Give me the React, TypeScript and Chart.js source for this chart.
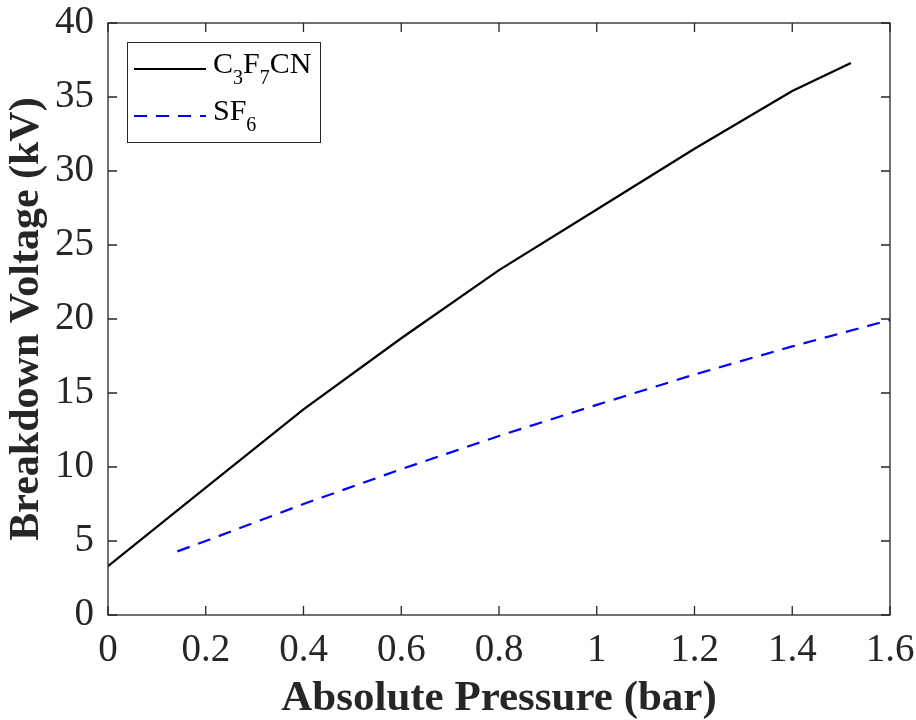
import React, { useEffect, useRef } from 'react';
import { Chart, registerables } from 'chart.js';

Chart.register(...registerables);

// ---- Data ----
const pressureC3F7CN = [0, 0.2, 0.4, 0.6, 0.8, 1.0, 1.2, 1.4, 1.52];
const voltageC3F7CN = [3.3, 8.6, 13.9, 18.7, 23.3, 27.4, 31.5, 35.4, 37.3];

const pressureSF6 = [0.142, 0.2, 0.4, 0.6, 0.8, 1.0, 1.2, 1.4, 1.6];
const voltageSF6 = [4.3, 5.0, 7.5, 9.85, 12.1, 14.2, 16.25, 18.15, 19.93];

const seriesLabels = ['C3F7CN', 'SF6'];

const xTickValues = [0, 0.2, 0.4, 0.6, 0.8, 1.0, 1.2, 1.4, 1.6];
const xTickLabels = ['0', '0.2', '0.4', '0.6', '0.8', '1', '1.2', '1.4', '1.6'];
const yTickValues = [0, 5, 10, 15, 20, 25, 30, 35, 40];
const yTickLabels = ['0', '5', '10', '15', '20', '25', '30', '35', '40'];

const xTitle = 'Absolute Pressure (bar)';
const yTitle = 'Breakdown Voltage (kV)';

const FONT = "'Liberation Serif', 'Times New Roman', Times, serif";
const AXIS_COLOR = '#262626';

const framePlugin = {
  id: 'matlabFrame',
  afterDraw(chart: any) {
    const { ctx, chartArea, scales } = chart;
    const { left, right, top, bottom } = chartArea;
    const x = scales.x;
    const y = scales.y;
    ctx.save();
    ctx.strokeStyle = AXIS_COLOR;
    ctx.lineWidth = 1.3;
    ctx.setLineDash([]);
    ctx.strokeRect(left, top, right - left, bottom - top);
    const tl = 9;
    ctx.beginPath();
    x.ticks.forEach((t: any) => {
      const px = x.getPixelForValue(t.value);
      ctx.moveTo(px, bottom);
      ctx.lineTo(px, bottom - tl);
      ctx.moveTo(px, top);
      ctx.lineTo(px, top + tl);
    });
    y.ticks.forEach((t: any) => {
      const py = y.getPixelForValue(t.value);
      ctx.moveTo(left, py);
      ctx.lineTo(left + tl, py);
      ctx.moveTo(right, py);
      ctx.lineTo(right - tl, py);
    });
    ctx.stroke();
    ctx.restore();
  },
};

function drawSubscripted(ctx: CanvasRenderingContext2D, text: string, x: number, baseline: number) {
  let cx = x;
  for (let i = 0; i < text.length; i++) {
    const ch = text[i];
    const isSub = /[0-9]/.test(ch) && i > 0;
    if (isSub) {
      ctx.font = `20px ${FONT}`;
      ctx.fillText(ch, cx, baseline + 11);
    } else {
      ctx.font = `30px ${FONT}`;
      ctx.fillText(ch, cx, baseline);
    }
    cx += ctx.measureText(ch).width;
  }
}

const legendPlugin = {
  id: 'subscriptLegend',
  afterDraw(chart: any) {
    const { ctx, chartArea } = chart;
    const bx = chartArea.left + 19;
    const by = chartArea.top + 19;
    const bw = 193;
    const bh = 100;
    ctx.save();
    ctx.fillStyle = '#ffffff';
    ctx.fillRect(bx, by, bw, bh);
    ctx.strokeStyle = AXIS_COLOR;
    ctx.lineWidth = 1;
    ctx.setLineDash([]);
    ctx.strokeRect(bx + 0.5, by + 0.5, bw, bh);
    chart.data.datasets.forEach((ds: any, i: number) => {
      const cy = by + 27 + i * 47;
      ctx.beginPath();
      ctx.strokeStyle = ds.borderColor;
      ctx.lineWidth = ds.borderWidth;
      ctx.setLineDash(ds.borderDash || []);
      ctx.moveTo(bx + 7, cy);
      ctx.lineTo(bx + 79, cy);
      ctx.stroke();
      ctx.setLineDash([]);
      ctx.fillStyle = '#000000';
      ctx.textBaseline = 'alphabetic';
      ctx.textAlign = 'left';
      drawSubscripted(ctx, ds.label, bx + 86, cy + 4);
    });
    ctx.restore();
  },
};

const zeroPadding = (scale: any) => {
  scale.paddingTop = 0;
  scale.paddingBottom = 0;
  scale.paddingLeft = 0;
  scale.paddingRight = 0;
};

export default function App() {
  const canvasRef = useRef<HTMLCanvasElement | null>(null);

  useEffect(() => {
    if (!canvasRef.current) return;
    const chart = new Chart(canvasRef.current, {
      type: 'line',
      data: {
        datasets: [
          {
            label: seriesLabels[0],
            data: pressureC3F7CN.map((p, i) => ({ x: p, y: voltageC3F7CN[i] })),
            borderColor: '#000000',
            borderWidth: 2.2,
            pointRadius: 0,
            tension: 0,
            fill: false,
          },
          {
            label: seriesLabels[1],
            data: pressureSF6.map((p, i) => ({ x: p, y: voltageSF6[i] })),
            borderColor: '#0000ff',
            borderWidth: 2.2,
            borderDash: [13, 9],
            pointRadius: 0,
            tension: 0,
            fill: false,
          },
        ],
      },
      options: {
        animation: false,
        responsive: false,
        maintainAspectRatio: false,
        layout: { padding: { top: 23, right: 26, left: 0, bottom: 0 } },
        plugins: {
          legend: { display: false },
          tooltip: { enabled: false },
        },
        scales: {
          x: {
            type: 'linear',
            min: 0,
            max: 1.6,
            afterBuildTicks: (scale: any) => {
              scale.ticks = xTickValues.map((v) => ({ value: v }));
            },
            afterFit: (scale: any) => {
              scale.height = 105;
              zeroPadding(scale);
            },
            grid: { display: false, drawTicks: false, tickLength: 0 },
            border: { display: false },
            ticks: {
              padding: 12,
              color: AXIS_COLOR,
              font: { family: FONT, size: 39 },
              maxRotation: 0,
              autoSkip: false,
              callback: (value: any) => {
                const idx = xTickValues.findIndex((v) => Math.abs(v - Number(value)) < 1e-9);
                return idx >= 0 ? xTickLabels[idx] : '';
              },
            },
            title: {
              display: true,
              text: xTitle,
              color: AXIS_COLOR,
              font: { family: FONT, size: 43, weight: 'bold', lineHeight: 1 },
              padding: { top: 0, bottom: 0 },
            },
          },
          y: {
            type: 'linear',
            min: 0,
            max: 40,
            afterBuildTicks: (scale: any) => {
              scale.ticks = yTickValues.map((v) => ({ value: v }));
            },
            afterFit: (scale: any) => {
              scale.width = 108;
              zeroPadding(scale);
            },
            grid: { display: false, drawTicks: false, tickLength: 0 },
            border: { display: false },
            ticks: {
              padding: 14,
              color: AXIS_COLOR,
              font: { family: FONT, size: 39 },
              autoSkip: false,
              callback: (value: any) => {
                const idx = yTickValues.findIndex((v) => Math.abs(v - Number(value)) < 1e-9);
                return idx >= 0 ? yTickLabels[idx] : '';
              },
            },
            title: {
              display: true,
              text: yTitle,
              color: AXIS_COLOR,
              font: { family: FONT, size: 42, weight: 'bold', lineHeight: 1.2 },
              padding: { top: 2, bottom: 0 },
            },
          },
        },
      },
      plugins: [framePlugin, legendPlugin],
    } as any);
    return () => chart.destroy();
  }, []);

  return (
    <div style={{ position: 'fixed', left: 0, top: 0, width: 916, height: 720, background: '#ffffff' }}>
      <canvas ref={canvasRef} width={916} height={720} style={{ width: 916, height: 720, display: 'block' }} />
    </div>
  );
}
